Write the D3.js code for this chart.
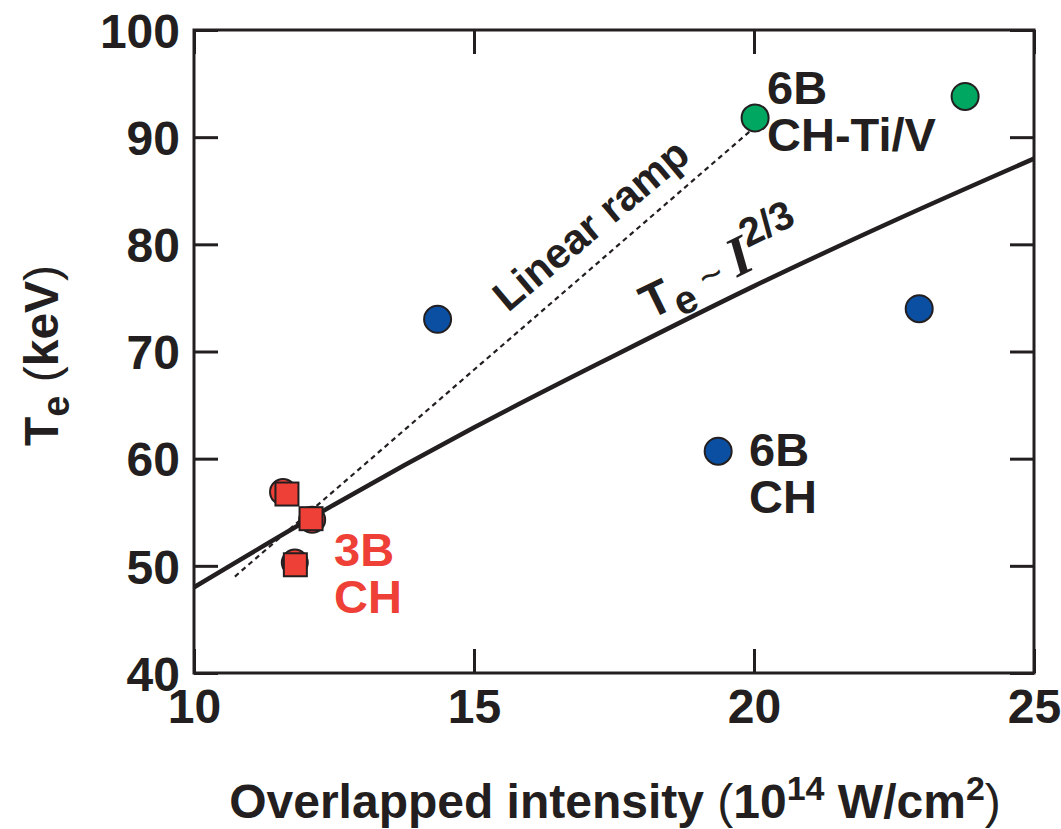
<!DOCTYPE html>
<head>
<meta charset="utf-8">
<title>Te vs overlapped intensity</title>
<script src="https://cdn.jsdelivr.net/npm/d3@7"></script>
<style>
	body { margin: 0; background: #fff; }
	svg text { font-family: "Liberation Sans", Arial, Helvetica, sans-serif; font-weight: bold; fill: #231f20; }
	.frame { fill: none; stroke: #231f20; stroke-width: 3px; }
	.axis path { display: none; }
	.axis line { stroke: #231f20; stroke-width: 3px; }
</style>
</head>
<body>
<div id="chart"></div>
<script>
	// tick values
	var xTicks = [10, 15, 20, 25];
	var yTicks = [40, 50, 60, 70, 80, 90, 100];

	// 6B CH shots (blue)
	var blueX = [14.35, 19.36, 22.95];
	var blueY = [73.0, 60.7, 74.0];
	// 6B CH-Ti/V shots (green)
	var greenX = [20.02, 23.77];
	var greenY = [91.8, 93.8];
	// 3B CH shots: circles drawn under squares
	var redCircX = [11.59, 12.11, 11.80];
	var redCircY = [56.9, 54.3, 50.3];
	var redSqX = [11.66, 12.09, 11.81];
	var redSqY = [56.7, 54.4, 50.1];
	// Te ~ I^(2/3) line
	var fitX = [10, 12.5, 15, 17.5, 20, 22.5, 25];
	var fitY = [48.0, 55.7, 62.9, 69.6, 76.1, 82.2, 88.0];
	// linear ramp (dashed)
	var rampX = [10.73, 19.96];
	var rampY = [49.0, 90.7];

	var width = 1061, height = 829;
	var mLeft = 194, mRight = 1034, mTop = 30, mBottom = 673;

	var svg = d3.select("#chart").append("svg")
		.attr("width", width)
		.attr("height", height);

	var x = d3.scaleLinear().domain([10, 25]).range([mLeft, mRight]);
	var y = d3.scaleLinear().domain([40, 100]).range([mBottom, mTop]);

	var tick = 24;

	// axes with inward ticks on all four sides
	svg.append("g").attr("class", "axis")
		.attr("transform", "translate(0," + mBottom + ")")
		.call(d3.axisBottom(x).tickValues(xTicks).tickSize(-tick).tickSizeOuter(0).tickFormat(d3.format("d")))
		.selectAll("text")
		.attr("y", 16)
		.attr("dy", "0.71em")
		.style("font-size", "48px");

	svg.append("g").attr("class", "axis")
		.attr("transform", "translate(0," + mTop + ")")
		.call(d3.axisTop(x).tickValues(xTicks).tickSize(-tick).tickSizeOuter(0).tickFormat(""));

	svg.append("g").attr("class", "axis")
		.attr("transform", "translate(" + mLeft + ",0)")
		.call(d3.axisLeft(y).tickValues(yTicks).tickSize(-tick).tickSizeOuter(0).tickFormat(d3.format("d")))
		.selectAll("text")
		.attr("x", -14)
		.attr("dy", "0.36em")
		.style("font-size", "48px");

	svg.append("g").attr("class", "axis")
		.attr("transform", "translate(" + mRight + ",0)")
		.call(d3.axisRight(y).tickValues(yTicks).tickSize(-tick).tickSizeOuter(0).tickFormat(""));

	svg.append("rect").attr("class", "frame")
		.attr("x", mLeft).attr("y", mTop)
		.attr("width", mRight - mLeft).attr("height", mBottom - mTop);

	// lines
	var line = d3.line()
		.x(function(d) { return x(d[0]); })
		.y(function(d) { return y(d[1]); });

	svg.append("path")
		.datum(d3.zip(rampX, rampY))
		.attr("d", line)
		.attr("fill", "none")
		.attr("stroke", "#231f20")
		.attr("stroke-width", 2.2)
		.attr("stroke-dasharray", "5,4");

	svg.append("path")
		.datum(d3.zip(fitX, fitY))
		.attr("d", line.curve(d3.curveMonotoneX))
		.attr("fill", "none")
		.attr("stroke", "#231f20")
		.attr("stroke-width", 4.5);

	// points
	function circles(xs, ys, fill, r) {
		svg.append("g").selectAll("circle")
			.data(d3.zip(xs, ys))
			.enter().append("circle")
			.attr("cx", function(d) { return x(d[0]); })
			.attr("cy", function(d) { return y(d[1]); })
			.attr("r", r)
			.attr("fill", fill)
			.attr("stroke", "#231f20")
			.attr("stroke-width", 2);
	}
	circles(blueX, blueY, "#0b4fa2", 13.5);
	circles(greenX, greenY, "#00a761", 13.5);
	circles(redCircX, redCircY, "#ee4036", 13);

	var sq = 23;
	svg.append("g").selectAll("rect")
		.data(d3.zip(redSqX, redSqY))
		.enter().append("rect")
		.attr("x", function(d) { return x(d[0]) - sq / 2; })
		.attr("y", function(d) { return y(d[1]) - sq / 2; })
		.attr("width", sq)
		.attr("height", sq)
		.attr("fill", "#ee4036")
		.attr("stroke", "#231f20")
		.attr("stroke-width", 2);

	// annotations
	function label(xp, yp, lines, color) {
		var t = svg.append("text")
			.attr("x", xp).attr("y", yp)
			.style("font-size", "47px")
			.style("fill", color || "#231f20");
		lines.forEach(function(s, i) {
			t.append("tspan").attr("x", xp).attr("dy", i ? "1.0em" : 0).text(s);
		});
	}
	label(767, 104, ["6B", "CH-Ti/V"]);
	label(749, 466, ["6B", "CH"]);
	label(334, 566, ["3B", "CH"], "#ee4036");

	svg.append("text")
		.attr("transform", "translate(508,313) rotate(-40)")
		.style("font-size", "42px")
		.text("Linear ramp");

	var fitLab = svg.append("text")
		.attr("transform", "translate(650,320) rotate(-26)")
		.style("font-size", "48px");
	fitLab.append("tspan").text("T");
	fitLab.append("tspan").attr("dy", 11).style("font-size", "40px").text("e");
	fitLab.append("tspan").attr("dy", -11).style("font-weight", "normal").style("font-size", "40px").text(" ~ ");
	fitLab.append("tspan")
		.style("font-family", "'Liberation Serif', 'Times New Roman', serif")
		.style("font-style", "italic")
		.style("font-size", "56px")
		.text("I");
	fitLab.append("tspan").attr("dy", -22).style("font-size", "40px").text("2/3");

	// axis titles
	var xt = svg.append("text")
		.attr("x", 615).attr("y", 818)
		.attr("text-anchor", "middle")
		.style("font-size", "48px");
	xt.append("tspan").text("Overlapped intensity ");
	xt.append("tspan").style("font-weight", "normal").text("(");
	xt.append("tspan").text("10");
	xt.append("tspan").attr("dy", -18).style("font-size", "34px").text("14");
	xt.append("tspan").attr("dy", 18).text(" W/cm");
	xt.append("tspan").attr("dy", -18).style("font-size", "34px").text("2");
	xt.append("tspan").attr("dy", 18).style("font-weight", "normal").text(")");

	var yt = svg.append("text")
		.attr("transform", "translate(58," + ((mTop + mBottom) / 2 + 4) + ") rotate(-90)")
		.attr("text-anchor", "middle")
		.style("font-size", "48px");
	yt.append("tspan").text("T");
	yt.append("tspan").attr("dy", 11).style("font-size", "38px").text("e");
	yt.append("tspan").attr("dy", -11).text(" ");
	yt.append("tspan").style("font-weight", "normal").text("(");
	yt.append("tspan").text("keV");
	yt.append("tspan").style("font-weight", "normal").text(")");
</script>
</body>
